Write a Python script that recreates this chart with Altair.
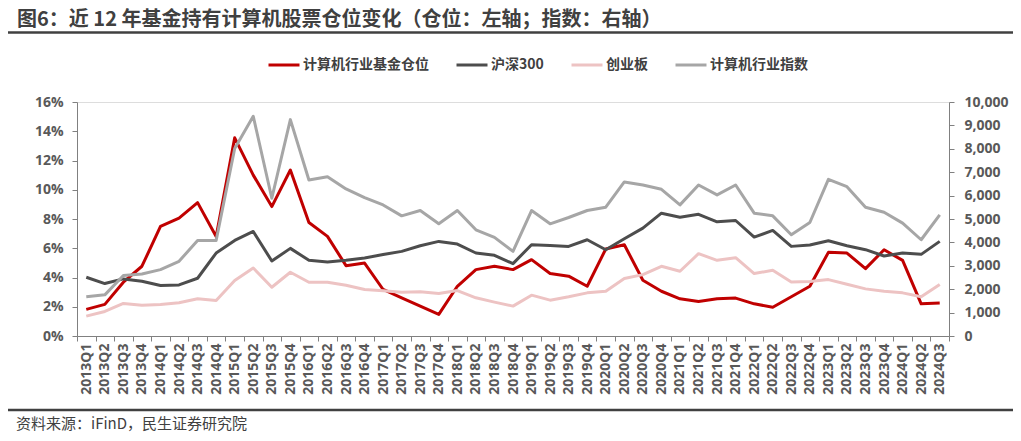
import altair as alt
import pandas as pd

quarters = ["2013Q1", "2013Q2", "2013Q3", "2013Q4", "2014Q1", "2014Q2", "2014Q3", "2014Q4",
            "2015Q1", "2015Q2", "2015Q3", "2015Q4", "2016Q1", "2016Q2", "2016Q3", "2016Q4",
            "2017Q1", "2017Q2", "2017Q3", "2017Q4", "2018Q1", "2018Q2", "2018Q3", "2018Q4",
            "2019Q1", "2019Q2", "2019Q3", "2019Q4", "2020Q1", "2020Q2", "2020Q3", "2020Q4",
            "2021Q1", "2021Q2", "2021Q3", "2021Q4", "2022Q1", "2022Q2", "2022Q3", "2022Q4",
            "2023Q1", "2023Q2", "2023Q3", "2023Q4", "2024Q1", "2024Q2", "2024Q3"]

# 计算机行业基金仓位 (%), left axis
fund_position = [1.82, 2.16, 3.68, 4.77, 7.49, 8.06, 9.12, 6.81, 13.55, 11.0, 8.85, 11.35,
                 7.76, 6.81, 4.81, 4.99, 3.18, 2.61, 2.04, 1.48, 3.40, 4.54, 4.77, 4.54,
                 5.22, 4.27, 4.09, 3.40, 5.95, 6.24, 3.81, 3.06, 2.54, 2.36, 2.54, 2.59,
                 2.20, 1.97, 2.68, 3.40, 5.72, 5.67, 4.61, 5.90, 5.17, 2.20, 2.25]

# right axis indices
hs300 = [2511, 2241, 2440, 2340, 2156, 2184, 2468, 3546, 4085, 4468, 3206, 3745,
         3234, 3163, 3234, 3333, 3480, 3617, 3858, 4043, 3929, 3546, 3447, 3092,
         3901, 3872, 3830, 4113, 3688, 4156, 4610, 5248, 5078, 5200, 4879, 4936,
         4227, 4511, 3830, 3887, 4071, 3858, 3688, 3418, 3546, 3489, 4043]
chinext = [851, 1050, 1390, 1319, 1348, 1418, 1589, 1518, 2369, 2908, 2085, 2723,
           2298, 2298, 2170, 1986, 1929, 1872, 1887, 1816, 1943, 1631, 1447, 1277,
           1745, 1532, 1674, 1844, 1915, 2454, 2624, 2979, 2766, 3518, 3234, 3348,
           2667, 2809, 2312, 2326, 2411, 2213, 2014, 1915, 1844, 1674, 2199]
computer_index = [1674, 1759, 2582, 2652, 2837, 3191, 4085, 4085, 8014, 9390, 5887, 9248,
                  6667, 6809, 6284, 5915, 5600, 5135, 5362, 4794, 5362, 4539, 4213, 3617,
                  5362, 4794, 5064, 5362, 5504, 6582, 6454, 6270, 5603, 6454, 6028, 6454,
                  5248, 5135, 4326, 4851, 6695, 6383, 5504, 5291, 4823, 4113, 5177]

series_names = ["计算机行业基金仓位", "沪深300", "创业板", "计算机行业指数"]
series_colors = ["#C00000", "#4D4D4D", "#EDC3C3", "#A6A6A6"]

title_text = "图6：近 12 年基金持有计算机股票仓位变化（仓位：左轴；指数：右轴）"
source_text = "资料来源：iFinD，民生证券研究院"

left_df = pd.DataFrame({"q": quarters, "v": [p / 100 for p in fund_position],
                        "series": series_names[0], "order": 0})
right_df = pd.concat([
    pd.DataFrame({"q": quarters, "v": hs300, "series": series_names[1], "order": 1}),
    pd.DataFrame({"q": quarters, "v": chinext, "series": series_names[2], "order": 2}),
    pd.DataFrame({"q": quarters, "v": computer_index, "series": series_names[3], "order": 3}),
])

FONT_NUM = "Open Sans"
FONT_CJK = "Noto Sans CJK SC"
AX_COLOR = "#808080"
LBL_COLOR = "#595959"

x_enc = alt.X(
    "q:O", sort=quarters, bandPosition=0.5,
    scale=alt.Scale(type="band", paddingInner=0, paddingOuter=0),
    axis=alt.Axis(title=None, labelAngle=-90, tickBand="extent", tickSize=5,
                  labelPadding=2, labelFont=FONT_NUM, labelFontWeight="bold",
                  labelFontSize=14, labelColor=LBL_COLOR, domainColor=AX_COLOR,
                  tickColor=AX_COLOR, grid=False),
)

color_enc = alt.Color(
    "series:N",
    scale=alt.Scale(domain=series_names, range=series_colors),
    legend=alt.Legend(orient="none", legendX=190, legendY=-54, direction="horizontal",
                      title=None, symbolType="stroke", symbolSize=961,
                      symbolStrokeWidth=3, labelFont=FONT_CJK, labelFontSize=14,
                      labelFontWeight="bold", labelColor="#404040", columnPadding=21,
                      labelOffset=2, padding=0),
)

left = alt.Chart(left_df).mark_line(strokeWidth=3, strokeJoin="round").encode(
    x=x_enc,
    y=alt.Y("v:Q", scale=alt.Scale(domain=[0, 0.16], nice=False),
            axis=alt.Axis(title=None, orient="left", format=".0%",
                          values=[0, 0.02, 0.04, 0.06, 0.08, 0.10, 0.12, 0.14, 0.16],
                          grid=False, tickSize=5, labelPadding=9, labelFont=FONT_NUM,
                          labelFontWeight="bold", labelFontSize=14, labelColor=LBL_COLOR,
                          domainColor=AX_COLOR, tickColor=AX_COLOR)),
    color=color_enc,
)

right = alt.Chart(right_df).mark_line(strokeWidth=3, strokeJoin="round").encode(
    x=x_enc,
    y=alt.Y("v:Q", scale=alt.Scale(domain=[0, 10000], nice=False),
            axis=alt.Axis(title=None, orient="right", format=",.0f",
                          values=[0, 1000, 2000, 3000, 4000, 5000, 6000, 7000, 8000, 9000, 10000],
                          grid=False, tickSize=5, labelPadding=10, labelFont=FONT_NUM,
                          labelFontWeight="bold", labelFontSize=14, labelColor=LBL_COLOR,
                          domainColor=AX_COLOR, tickColor=AX_COLOR)),
    color=color_enc,
    detail="series:N",
    order="order:Q",
)

dummy = pd.DataFrame({"t": [title_text], "s": [source_text]})

title = alt.Chart(dummy).mark_text(
    align="left", baseline="middle", font=FONT_CJK, fontSize=20, fontWeight="bold",
    color="#404040").encode(x=alt.value(-60), y=alt.value(-82), text="t:N")

title_rule = alt.Chart(dummy).mark_rule(color="#404040", strokeWidth=2.5).encode(
    x=alt.value(-69), x2=alt.value(936), y=alt.value(-69.5))

bottom_rule = alt.Chart(dummy).mark_rule(color="#404040", strokeWidth=2.5).encode(
    x=alt.value(-69), x2=alt.value(936), y=alt.value(308))

source = alt.Chart(dummy).mark_text(
    align="left", baseline="middle", font=FONT_CJK, fontSize=15,
    color="#404040").encode(x=alt.value(-61), y=alt.value(322), text="s:N")

chart = alt.layer(left, right, title, title_rule, bottom_rule, source).resolve_scale(
    y="independent"
).properties(
    width=872, height=234,
    autosize=alt.AutoSizeParams(type="none"),
    padding={"left": 69, "top": 94, "right": 64, "bottom": 97},
).configure_view(stroke=None).configure(background="white")

chart.save("out.html", embed_options={"renderer": "svg", "actions": False})
